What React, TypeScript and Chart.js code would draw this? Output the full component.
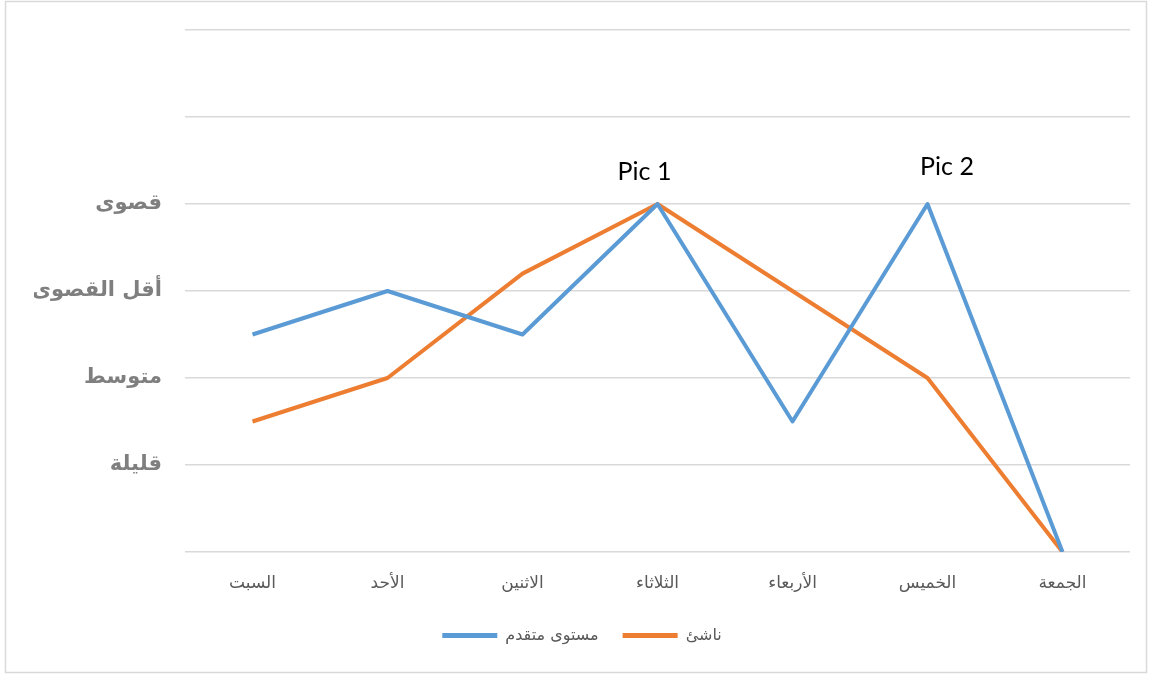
import React, { useEffect, useRef } from "react";
import { Chart, registerables } from "chart.js";

Chart.register(...registerables);

const categories = ["السبت", "الأحد", "الاثنين", "الثلاثاء", "الأربعاء", "الخميس", "الجمعة"];
const advancedValues = [2.5, 3, 2.5, 4, 1.5, 4, 0];
const beginnerValues = [1.5, 2, 3.2, 4, 3, 2, 0];
const levelLabels = ["", "قليلة", "متوسط", "أقل القصوى", "قصوى", "", ""];
const seriesNames = ["مستوى متقدم", "ناشئ"];
const peakTexts = ["Pic 1", "Pic 2"];
const peakIndices = [3, 5];
const peakValues = [4, 4];

const peakOffsets = [
  { dx: -13, dy: -24 },
  { dx: 19.5, dy: -29 },
];

const framePlugin = {
  id: "frame",
  beforeDraw(chart: any) {
    const { ctx, width, height } = chart;
    ctx.save();
    ctx.fillStyle = "#ffffff";
    ctx.fillRect(0, 0, width, height);
    ctx.strokeStyle = "#d9d9d9";
    ctx.lineWidth = 1.5;
    ctx.strokeRect(5.5, 1.5, 1141, 671);
    ctx.restore();
  },
};

const peakPlugin = {
  id: "peaks",
  afterDatasetsDraw(chart: any) {
    const { ctx } = chart;
    const xs = chart.scales.x;
    const ys = chart.scales.y;
    ctx.save();
    ctx.fillStyle = "#000000";
    ctx.font = "25px Lato";
    ctx.textAlign = "center";
    ctx.textBaseline = "alphabetic";
    peakTexts.forEach((t, i) => {
      const x = xs.getPixelForValue(peakIndices[i]) + peakOffsets[i].dx;
      const y = ys.getPixelForValue(peakValues[i]) + peakOffsets[i].dy;
      ctx.fillText(t, x, y);
    });
    ctx.restore();
  },
};

export default function App() {
  const ref = useRef<HTMLCanvasElement | null>(null);
  useEffect(() => {
    if (!ref.current) return;
    const chart = new Chart(ref.current, {
      type: "line",
      data: {
        labels: categories,
        datasets: [
          {
            label: seriesNames[0],
            data: advancedValues,
            borderColor: "#5b9bd5",
            backgroundColor: "#5b9bd5",
            borderWidth: 4,
            pointRadius: 0,
            borderJoinStyle: "round",
            tension: 0,
          },
          {
            label: seriesNames[1],
            data: beginnerValues,
            borderColor: "#ed7d31",
            backgroundColor: "#ed7d31",
            borderWidth: 4,
            pointRadius: 0,
            borderJoinStyle: "round",
            tension: 0,
          },
        ],
      },
      options: {
        animation: false,
        responsive: false,
        layout: { padding: { left: 34, right: 22, top: 30, bottom: 21.5 } },
        plugins: {
          legend: {
            position: "bottom",
            labels: {
              boxWidth: 55,
              boxHeight: 5,
              padding: 24,
              color: "#595959",
              font: { family: "DejaVu Sans", size: 16 },
              generateLabels(chart: any) {
                const items = Chart.defaults.plugins.legend.labels.generateLabels(chart);
                items.forEach((it: any) => {
                  it.lineWidth = 0;
                });
                return items;
              },
            },
          },
          tooltip: { enabled: false },
        },
        scales: {
          x: {
            offset: true,
            grid: { display: false, drawTicks: false },
            border: { display: false },
            ticks: {
              padding: 21,
              color: "#595959",
              font: { family: "DejaVu Sans", size: 17 },
              maxRotation: 0,
            },
            afterFit(scale: any) {
              scale.height = 51.5;
              scale.paddingLeft = 0;
              scale.paddingRight = 0;
            },
          },
          y: {
            min: 0,
            max: 6,
            grid: { color: "#d9d9d9", lineWidth: 1.5, drawTicks: false },
            border: { display: false },
            ticks: {
              stepSize: 1,
              padding: 23,
              color: "#7f7f7f",
              font: { family: "DejaVu Sans", size: 21, weight: "bold" },
              callback: (v: any) => levelLabels[Number(v)] ?? "",
            },
            afterFit(scale: any) {
              scale.width = 151;
              scale.paddingTop = 0;
              scale.paddingBottom = 0;
            },
          },
        },
      },
      plugins: [framePlugin, peakPlugin],
    });
    return () => chart.destroy();
  }, []);
  return (
    <div style={{ position: "absolute", left: 0, top: 0, width: 1152, height: 675 }}>
      <canvas ref={ref} width={1152} height={675} />
    </div>
  );
}
